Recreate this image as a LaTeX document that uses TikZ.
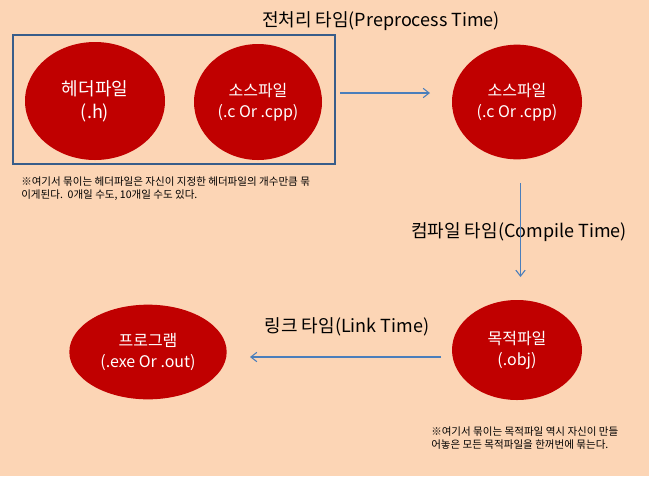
\documentclass[tikz,border=0pt]{standalone}
\usepackage{fontspec}
\setmainfont{Noto Sans CJK KR}
\usetikzlibrary{arrows.meta,shapes.geometric}
\definecolor{bg}{HTML}{FCD5B5}
\definecolor{dred}{HTML}{C00000}
\definecolor{boxblue}{HTML}{385D8A}
\definecolor{arrblue}{HTML}{4A7EBB}
\begin{document}
\begin{tikzpicture}[x=0.75pt,y=-0.75pt,
  blob/.style={ellipse,fill=dred,draw=none,text=white,align=center,inner sep=0pt},
  bigtxt/.style={font=\fontsize{13.5}{17.5}\selectfont},
  midtxt/.style={font=\fontsize{12}{15.5}\selectfont},
  lbl/.style={font=\fontsize{13.5}{15}\selectfont,text=black,inner sep=0pt},
  note/.style={font=\fontsize{7.9}{9.5}\selectfont,align=left,anchor=north west,inner sep=0pt,text=black},
  conn/.style={draw=arrblue,line width=0.8pt,-{Straight Barb[length=4.5pt,width=7pt]}}]
\useasboundingbox[fill=bg] (0,0) rectangle (649,476);
% group box
\node[draw=boxblue,line width=1.5pt,minimum width=241.5pt,minimum height=96.75pt,inner sep=0pt] (grp) at (173.5,99.5) {};
% ellipses
\node[blob,bigtxt,minimum width=105pt,minimum height=88.5pt] (hdr) at (95,101) {헤더파일\\(.h)};
\node[blob,midtxt,minimum width=96pt,minimum height=87pt] (src1) at (258,102) {소스파일\\(.c Or .cpp)};
\node[blob,midtxt,minimum width=97.5pt,minimum height=86pt] (src2) at (517,102) {소스파일\\(.c Or .cpp)};
\node[blob,midtxt,minimum width=97.5pt,minimum height=75pt] (obj) at (517,350) {목적파일\\(.obj)};
\node[blob,midtxt,minimum width=118pt,minimum height=71pt] (prog) at (148,352) {프로그램\\(.exe Or .out)};
% labels
\node[lbl] (tpre) at (381,21) {전처리 타임(Preprocess Time)};
\node[lbl] (tcmp) at (519,232) {컴파일 타임(Compile Time)};
\node[lbl] (tlnk) at (347,327) {링크 타임(Link Time)};
% notes
\node[note] (n1) at (21,177) {※여기서 묶이는 헤더파일은 자신이 지정한 헤더파일의 개수만큼 묶\\이게된다.\ \ 0개일 수도, 10개일 수도 있다.};
\node[note] (n2) at (431,427) {※여기서 묶이는 목적파일 역시 자신이 만들\\어놓은 모든 목적파일을 한꺼번에 묶는다.};
% connectors
\coordinate (a1s) at (340,93);
\coordinate (a1e) at (430,93);
\draw[conn] (a1s) -- (a1e);
\coordinate (a2s) at (520.5,183);
\coordinate (a2e) at (520.5,277);
\draw[conn] (a2s) -- (a2e);
\coordinate (a3s) at (441,357);
\coordinate (a3e) at (250,357);
\draw[conn] (a3s) -- (a3e);
\end{tikzpicture}
\end{document}
